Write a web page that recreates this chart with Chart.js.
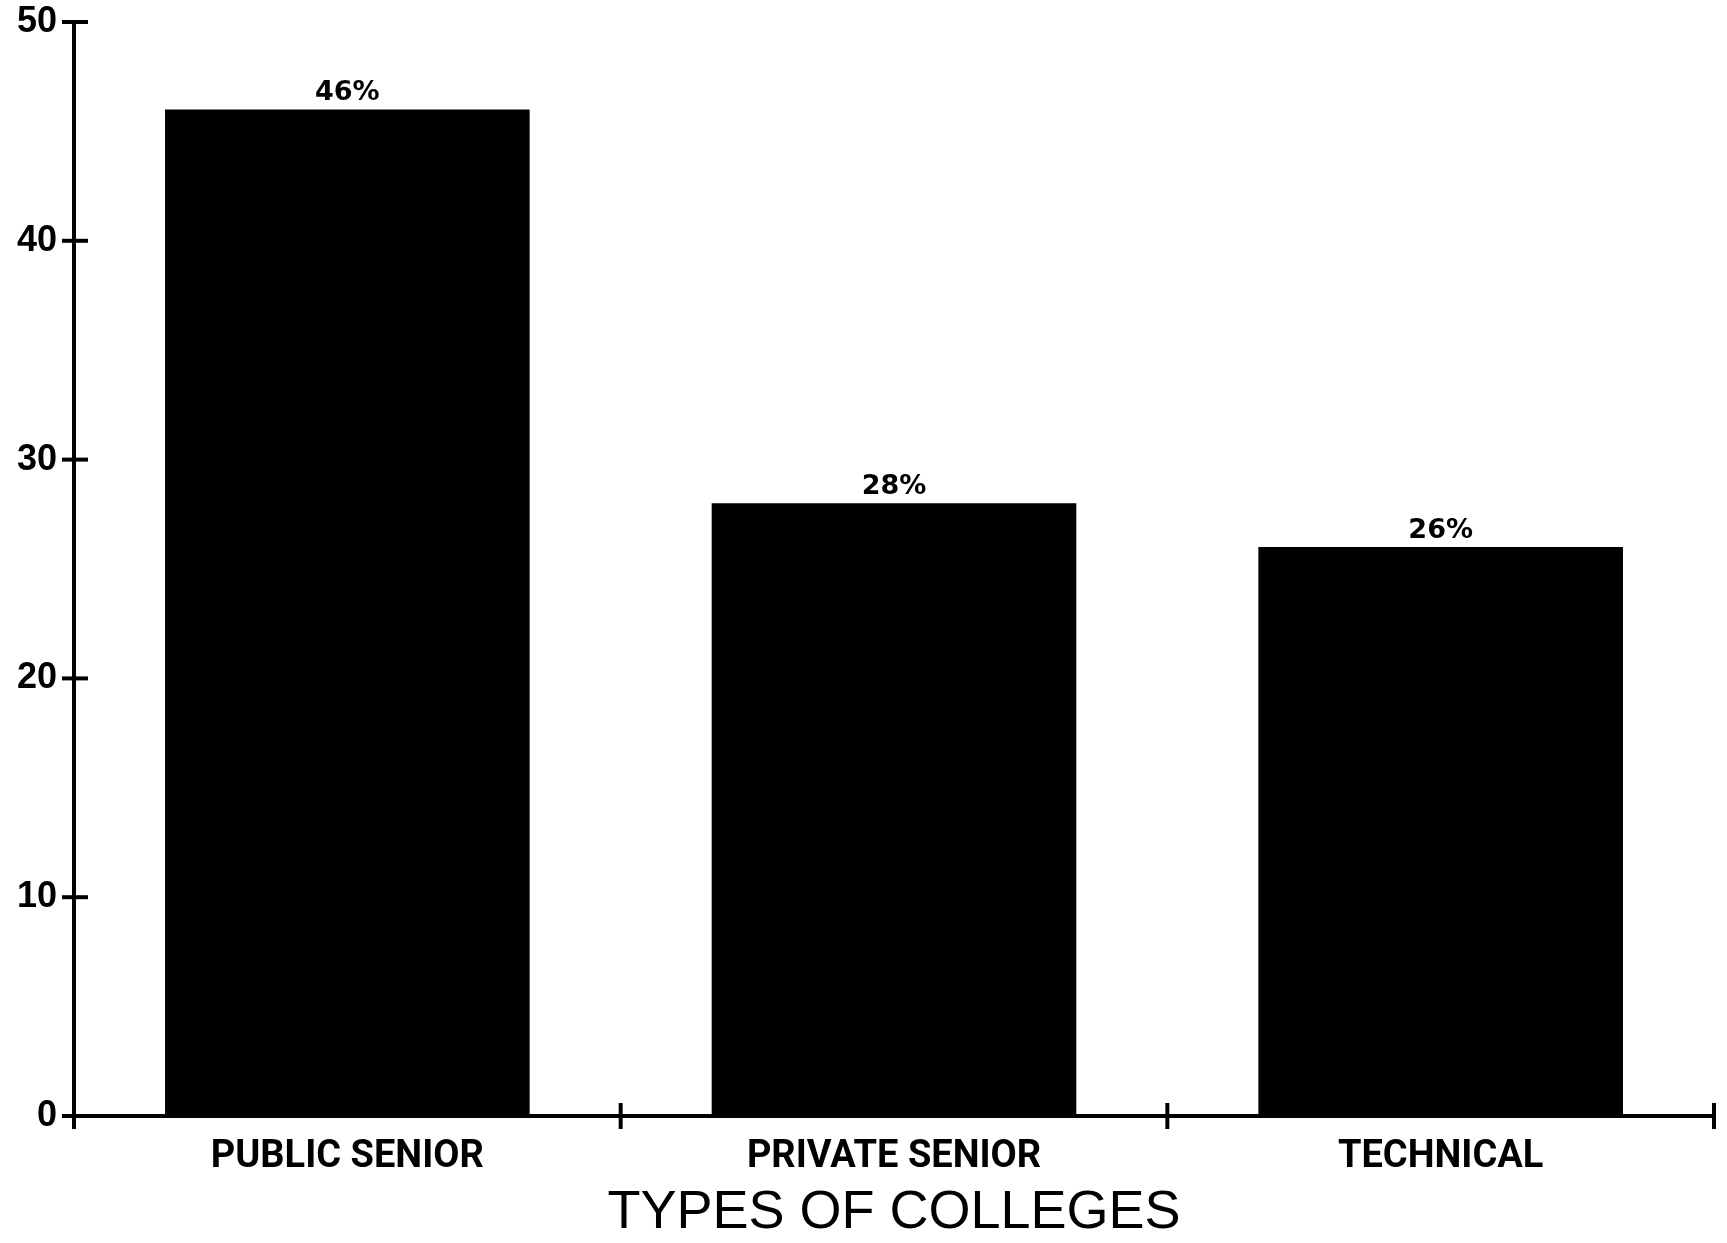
<!DOCTYPE html>
<html>
<head>
<meta charset="utf-8">
<script src="https://cdn.jsdelivr.net/npm/chart.js@4/dist/chart.umd.min.js"></script>
<style>
  body { margin: 0; background: #fff; }
  #wrap { width: 1727px; height: 1243px; }
</style>
</head>
<body>
<div id="wrap"><canvas id="myChart"></canvas></div>
<script>
// Chart values
var categories = ["PUBLIC SENIOR", "PRIVATE SENIOR", "TECHNICAL"];
var percents = [46, 28, 26];
var yTicks = [0, 10, 20, 30, 40, 50];
var axisTitle = "TYPES OF COLLEGES";

// Size the category labels so "PUBLIC SENIOR" is about 272px wide like the scan
function pickLabelFont() {
	var c = document.createElement("canvas").getContext("2d");
	var fam = "Roboto, 'Liberation Sans'";
	c.font = "bold 40px " + fam;
	var w = c.measureText(categories[0]).width;
	return { family: fam, size: Math.min(39, Math.round(40 * 272 / w)) };
}
var labelFont = pickLabelFont();

// Writes the "46%" labels on top of the bars
var barLabels = {
	id: "barLabels",
	afterDatasetsDraw: function(chart) {
		var ctx = chart.ctx;
		var meta = chart.getDatasetMeta(0);
		ctx.save();
		ctx.fillStyle = "#000";
		ctx.font = "bold 27px 'DejaVu Sans'";
		ctx.textAlign = "center";
		ctx.textBaseline = "bottom";
		meta.data.forEach(function(bar, i) {
			ctx.fillText(percents[i] + "%", bar.x, bar.y - 3);
		});
		ctx.restore();
	}
};

// Tick marks that cross the axis lines on both sides
var crossTicks = {
	id: "crossTicks",
	afterDraw: function(chart) {
		var ctx = chart.ctx;
		var x = chart.scales.x;
		var y = chart.scales.y;
		ctx.save();
		ctx.strokeStyle = "#000";
		ctx.lineWidth = 4;
		yTicks.forEach(function(v) {
			var py = y.getPixelForValue(v);
			ctx.beginPath();
			ctx.moveTo(x.left - 12, py);
			ctx.lineTo(x.left + 14, py);
			ctx.stroke();
		});
		for (var i = 0; i <= categories.length; i++) {
			var px = x.getPixelForValue(i - 0.5);
			ctx.beginPath();
			ctx.moveTo(px, y.bottom - 13);
			ctx.lineTo(px, y.bottom + 13);
			ctx.stroke();
		}
		ctx.restore();
	}
};

var chart = new Chart("myChart", {
	type: "bar",
	data: {
		labels: categories,
		datasets: [{
			data: percents,
			backgroundColor: "#000",
			borderWidth: 0,
			barPercentage: 0.667,
			categoryPercentage: 1
		}]
	},
	options: {
		responsive: true,
		maintainAspectRatio: false,
		animation: false,
		layout: { padding: { top: 22, right: 13, left: 0, bottom: 0 } },
		plugins: {
			legend: { display: false },
			tooltip: { enabled: false }
		},
		scales: {
			x: {
				grid: { display: false, offset: true },
				border: { display: true, color: "#000", width: 4 },
				ticks: {
					color: "#000",
					padding: 11,
					font: { family: labelFont.family, weight: "bold", size: labelFont.size }
				},
				title: {
					display: true,
					text: axisTitle,
					color: "#000",
					padding: { top: 0, bottom: 0 },
					font: { family: "'Liberation Sans'", size: 54, lineHeight: 1.1 }
				},
				afterFit: function(scale) { scale.height = 127; }
			},
			y: {
				min: 0,
				max: 50,
				afterBuildTicks: function(scale) {
					scale.ticks = yTicks.map(function(v) { return { value: v }; });
				},
				grid: { display: false },
				border: { display: true, color: "#000", width: 4 },
				ticks: {
					color: "#000",
					padding: 9,
					font: { family: "'Liberation Sans'", weight: "bold", size: 36 }
				},
				afterFit: function(scale) {
					scale.width = 74;
					scale.paddingTop = 0;
					scale.paddingBottom = 0;
				}
			}
		}
	},
	plugins: [barLabels, crossTicks]
});
</script>
</body>
</html>
